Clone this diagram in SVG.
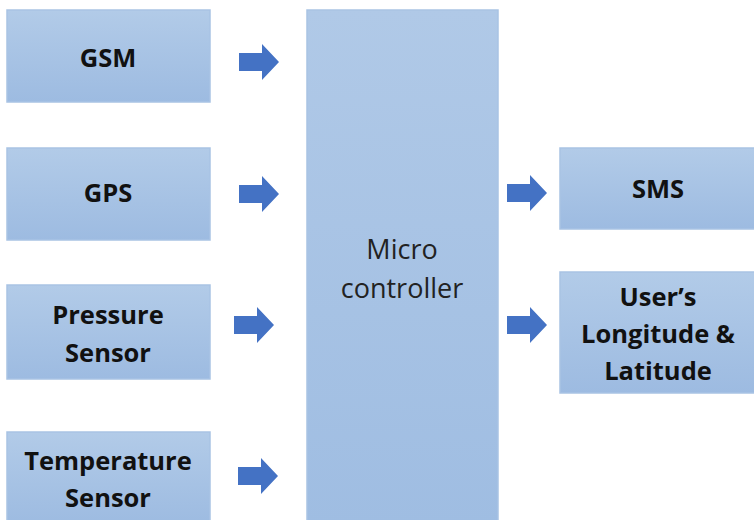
<svg xmlns="http://www.w3.org/2000/svg" width="754" height="520" viewBox="0 0 754 520">
<defs>
<linearGradient id="g" x1="0" y1="0" x2="0" y2="1">
<stop offset="0" stop-color="#b2cbe8"/>
<stop offset="1" stop-color="#9dbbe1"/>
</linearGradient>
<linearGradient id="gm" x1="0" y1="0" x2="0" y2="1">
<stop offset="0" stop-color="#b0c9e7"/>
<stop offset="1" stop-color="#9fbde2"/>
</linearGradient>
<polygon id="arr" points="0,-9 23,-9 23,-18 40,0 23,18 23,9 0,9"/>
</defs>
<style>
.box{fill:url(#g);stroke:#a9c3e4;stroke-width:1.5}
.lbl{font-family:"Open Sans","Noto Sans",sans-serif;font-weight:bold;font-size:25.5px;fill:#111;text-anchor:middle;dominant-baseline:central}
.reg{font-family:"Open Sans","Noto Sans",sans-serif;font-size:27px;fill:#222;text-anchor:middle;dominant-baseline:central}
.a{fill:#4472c4}
</style>
<rect width="754" height="520" fill="#fff"/>
<g id="gsm"><rect class="box" x="7" y="10" width="203" height="92"/><text class="lbl" x="108" y="57">GSM</text></g>
<g id="gps"><rect class="box" x="7" y="148" width="203" height="92"/><text class="lbl" x="108" y="192">GPS</text></g>
<g id="pressure"><rect class="box" x="7" y="285" width="203" height="94"/><text class="lbl" x="108" y="314">Pressure</text><text class="lbl" x="108" y="352">Sensor</text></g>
<g id="temperature"><rect class="box" x="7" y="432" width="203" height="92"/><text class="lbl" x="108" y="460">Temperature</text><text class="lbl" x="108" y="497">Sensor</text></g>
<g id="micro"><rect class="box" style="fill:url(#gm)" x="307" y="10" width="191" height="515"/><text class="reg" x="402" y="248">Micro</text><text class="reg" x="402" y="287">controller</text></g>
<g id="sms"><rect class="box" x="560" y="148" width="200" height="81"/><text class="lbl" x="658" y="188">SMS</text></g>
<g id="user"><rect class="box" x="560" y="272" width="200" height="121"/><text class="lbl" x="658" y="296">User’s</text><text class="lbl" x="658" y="333">Longitude &amp;</text><text class="lbl" x="658" y="370">Latitude</text></g>
<g id="connectors">
<use href="#arr" class="a" x="239" y="62"/>
<use href="#arr" class="a" x="239" y="194"/>
<use href="#arr" class="a" x="234" y="325"/>
<use href="#arr" class="a" x="238" y="476"/>
<use href="#arr" class="a" x="507" y="193"/>
<use href="#arr" class="a" x="507" y="325"/>
</g>
</svg>
